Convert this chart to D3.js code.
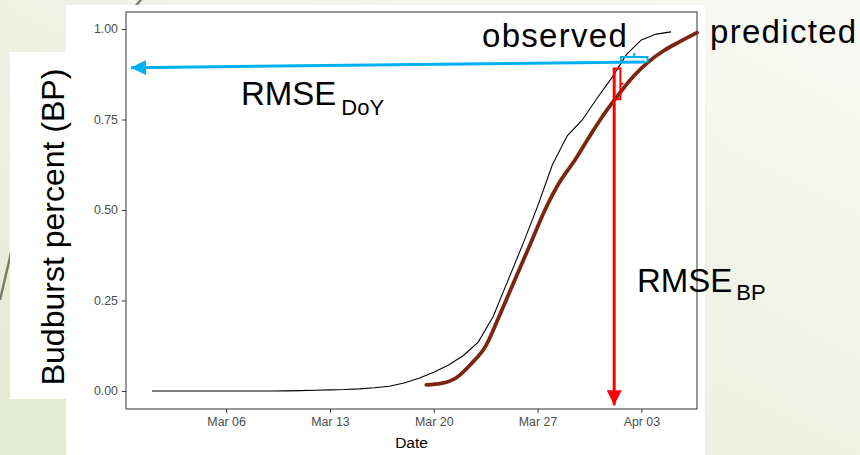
<!DOCTYPE html>
<html>
<head>
<meta charset="utf-8">
<script src="https://cdn.jsdelivr.net/npm/d3@7"></script>
<style>
  body { margin: 0; }
  svg { display: block; font-family: "Liberation Sans", Arial, sans-serif; }
</style>
</head>
<body>
<div id="chart"></div>
<script>
let width = 860,
    height = 455,
    margin = ({ top: 12, right: 163, bottom: 46, left: 126 });

// observed budburst percent, one value per day from Mar 01
const obsDates = ["2019-03-01","2019-03-02","2019-03-03","2019-03-04","2019-03-05","2019-03-06",
  "2019-03-07","2019-03-08","2019-03-09","2019-03-10","2019-03-11","2019-03-12","2019-03-13",
  "2019-03-14","2019-03-15","2019-03-16","2019-03-17","2019-03-18","2019-03-19","2019-03-20",
  "2019-03-21","2019-03-22","2019-03-23","2019-03-24","2019-03-25","2019-03-26","2019-03-27",
  "2019-03-28","2019-03-29","2019-03-30","2019-03-31","2019-04-01","2019-04-02","2019-04-03",
  "2019-04-04","2019-04-05"];
const obsValues = [0, 0, 0, 0, 0, 0, 0, 0, 0, 0.0005, 0.001, 0.002, 0.003, 0.004, 0.006, 0.009,
  0.013, 0.022, 0.035, 0.052, 0.072, 0.098, 0.135, 0.205, 0.305, 0.405, 0.51, 0.625, 0.705, 0.748,
  0.808, 0.865, 0.93, 0.97, 0.986, 0.992];

// predicted curve (hand drawn overlay)
const predDates = ["2019-03-19T12:00","2019-03-20T12:00","2019-03-21T12:00","2019-03-22T12:00",
  "2019-03-23T12:00","2019-03-24T12:00","2019-03-25T12:00","2019-03-26T12:00","2019-03-27T12:00",
  "2019-03-28T12:00","2019-03-29T12:00","2019-03-30T12:00","2019-03-31T12:00","2019-04-01T12:00",
  "2019-04-02T12:00","2019-04-03T12:00","2019-04-04T12:00","2019-04-05T12:00","2019-04-06T18:00"];
const predValues = [0.017, 0.021, 0.036, 0.074, 0.124, 0.215, 0.31, 0.405, 0.5, 0.578, 0.637,
  0.703, 0.766, 0.821, 0.871, 0.91, 0.94, 0.963, 0.99];

const xTicks = ["2019-03-06","2019-03-13","2019-03-20","2019-03-27","2019-04-03"];
const yTicks = [0, 0.25, 0.5, 0.75, 1];

// annotation anchors, in data units
const doyArrow = { from: ["2019-04-03T06:00", 0.909], to: ["2019-02-27T14:00", 0.893] };
const doyBracket = { x0: "2019-04-01T15:00", x1: "2019-04-03T10:00", y0: 0.907, y1: 0.923, tip: 0.934 };
const bpArrow = { date: "2019-04-01T04:00", from: 0.892, to: -0.039 };
const bpBracket = { x0: "2019-04-01T02:00", x1: "2019-04-01T14:00", tip: "2019-04-01T19:00", y0: 0.806, y1: 0.891 };

const parse = s => new Date(s + (s.length > 10 ? ":00Z" : "T00:00:00Z"));

const observed = obsDates.map((d, i) => ({ date: parse(d), value: obsValues[i] }));
const predicted = predDates.map((d, i) => ({ date: parse(d), value: predValues[i] }));

const svg = d3.select("#chart")
  .append("svg")
  .attr("width", width)
  .attr("height", height)
  .attr("viewBox", [0, 0, width, height]);

// slide background
const defs = svg.append("defs");
const grad = defs.append("linearGradient").attr("id", "bg")
  .attr("x1", "0").attr("y1", "1").attr("x2", "1").attr("y2", "0");
grad.append("stop").attr("offset", "0").attr("stop-color", "#e3ead0");
grad.append("stop").attr("offset", "0.5").attr("stop-color", "#eff1e3");
grad.append("stop").attr("offset", "1").attr("stop-color", "#f9f9f6");

svg.append("rect").attr("width", width).attr("height", height).attr("fill", "url(#bg)");
svg.append("line").attr("x1", 0).attr("y1", 300).attr("x2", 14).attr("y2", 240)
  .attr("stroke", "#807d66").attr("stroke-width", 2.5);
svg.append("line").attr("x1", 134).attr("y1", 8).attr("x2", 144).attr("y2", -4)
  .attr("stroke", "#807d66").attr("stroke-width", 2.5);

// white boxes of the pasted plot and the axis title
svg.append("rect").attr("x", 66).attr("y", 5).attr("width", 639).attr("height", 450).attr("fill", "#fff");
svg.append("rect").attr("x", 10).attr("y", 52).attr("width", 57).attr("height", 347).attr("fill", "#fff");

const ext = d3.extent(observed, d => d.date);
const pad = (ext[1] - ext[0]) * 0.05;
let x = d3.scaleUtc()
  .domain([new Date(+ext[0] - pad), new Date(+ext[1] + pad)])
  .range([margin.left, width - margin.right]);

let y = d3.scaleLinear()
  .domain([-0.0497, 1.047])
  .range([height - margin.bottom, margin.top]);

svg.append("g")
  .attr("transform", `translate(0,${height - margin.bottom})`)
  .call(d3.axisBottom(x).tickValues(xTicks.map(parse)).tickFormat(d3.utcFormat("%b %d"))
    .tickSizeOuter(0).tickSize(4).tickPadding(4))
  .call(g => g.select(".domain").remove())
  .call(g => g.selectAll("line").attr("stroke", "#333"))
  .call(g => g.selectAll("text").attr("fill", "#4d4d4d").style("font-size", "12.4px")
    .style("font-family", "Liberation Sans, Arial, sans-serif"));

svg.append("g")
  .attr("transform", `translate(${margin.left},0)`)
  .call(d3.axisLeft(y).tickValues(yTicks).tickFormat(d3.format(".2f"))
    .tickSizeOuter(0).tickSize(4).tickPadding(4))
  .call(g => g.select(".domain").remove())
  .call(g => g.selectAll("line").attr("stroke", "#333"))
  .call(g => g.selectAll("text").attr("fill", "#4d4d4d").style("font-size", "12.4px")
    .style("font-family", "Liberation Sans, Arial, sans-serif"));

svg.append("rect")
  .attr("x", margin.left).attr("y", margin.top)
  .attr("width", width - margin.left - margin.right)
  .attr("height", height - margin.top - margin.bottom)
  .attr("fill", "none").attr("stroke", "#333").attr("stroke-width", 1);

svg.append("text")
  .attr("x", (margin.left + width - margin.right) / 2).attr("y", 448)
  .attr("text-anchor", "middle").style("font-size", "15.5px").text("Date");

svg.append("text")
  .attr("transform", "translate(64,227) rotate(-90)")
  .attr("text-anchor", "middle").style("font-size", "32px").text("Budburst percent (BP)");

// curves
svg.append("path")
  .datum(observed)
  .attr("fill", "none").attr("stroke", "#000").attr("stroke-width", 1.1)
  .attr("d", d3.line().x(d => x(d.date)).y(d => y(d.value)));

svg.append("path")
  .datum(predicted)
  .attr("fill", "none").attr("stroke", "#7a2610").attr("stroke-width", 3.8)
  .attr("stroke-linecap", "round")
  .attr("d", d3.line().curve(d3.curveMonotoneX).x(d => x(d.date)).y(d => y(d.value)));

// RMSE DoY annotation (blue)
const blue = "#00b0f0";
defs.append("marker").attr("id", "headBlue").attr("viewBox", "0 0 10 10")
  .attr("refX", 10).attr("refY", 5).attr("markerUnits", "userSpaceOnUse")
  .attr("markerWidth", 16).attr("markerHeight", 15).attr("orient", "auto")
  .append("path").attr("d", "M0,0L10,5L0,10Z").attr("fill", blue);
defs.append("marker").attr("id", "headRed").attr("viewBox", "0 0 10 10")
  .attr("refX", 10).attr("refY", 5).attr("markerUnits", "userSpaceOnUse")
  .attr("markerWidth", 16).attr("markerHeight", 15).attr("orient", "auto")
  .append("path").attr("d", "M0,0L10,5L0,10Z").attr("fill", "#ff0000");

svg.append("line")
  .attr("x1", x(parse(doyArrow.from[0]))).attr("y1", y(doyArrow.from[1]))
  .attr("x2", x(parse(doyArrow.to[0]))).attr("y2", y(doyArrow.to[1]))
  .attr("stroke", blue).attr("stroke-width", 3).attr("marker-end", "url(#headBlue)");

let bx0 = x(parse(doyBracket.x0)), bx1 = x(parse(doyBracket.x1));
svg.append("path")
  .attr("d", `M${bx0},${y(doyBracket.y0)}V${y(doyBracket.y1)}H${bx1}V${y(doyBracket.y0)}` +
    `M${(bx0 + bx1) / 2},${y(doyBracket.y1)}V${y(doyBracket.tip)}`)
  .attr("fill", "none").attr("stroke", blue).attr("stroke-width", 2);

// RMSE BP annotation (red)
svg.append("line")
  .attr("x1", x(parse(bpArrow.date))).attr("y1", y(bpArrow.from))
  .attr("x2", x(parse(bpArrow.date))).attr("y2", y(bpArrow.to))
  .attr("stroke", "#ff0000").attr("stroke-width", 3).attr("marker-end", "url(#headRed)");

let rx0 = x(parse(bpBracket.x0)), rx1 = x(parse(bpBracket.x1));
svg.append("path")
  .attr("d", `M${rx0},${y(bpBracket.y1)}H${rx1}V${y(bpBracket.y0)}H${rx0}` +
    `M${rx1},${y((bpBracket.y0 + bpBracket.y1) / 2)}H${x(parse(bpBracket.tip))}`)
  .attr("fill", "none").attr("stroke", "#ff0000").attr("stroke-width", 2);

// slide labels
svg.append("text").attr("x", 482).attr("y", 47).style("font-size", "33px")
  .style("letter-spacing", "1.3px").text("observed");
svg.append("text").attr("x", 710).attr("y", 43).style("font-size", "33px")
  .style("letter-spacing", "1.3px").text("predicted");

const doyLabel = svg.append("text").attr("x", 241).attr("y", 105).style("font-size", "33px");
doyLabel.append("tspan").text("RMSE");
doyLabel.append("tspan").attr("dx", 5).attr("dy", 10).style("font-size", "22px").text("DoY");

const bpLabel = svg.append("text").attr("x", 637).attr("y", 292).style("font-size", "33px");
bpLabel.append("tspan").text("RMSE");
bpLabel.append("tspan").attr("dx", 4).attr("dy", 8).style("font-size", "22px").text("BP");
</script>
</body>
</html>
